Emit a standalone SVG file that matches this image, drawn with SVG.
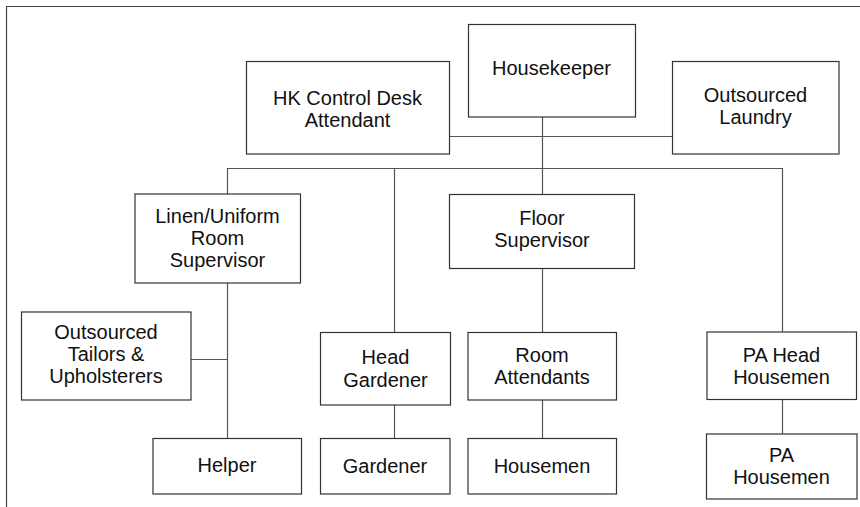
<svg xmlns="http://www.w3.org/2000/svg" width="860" height="507" viewBox="0 0 860 507">
  <style>
    .box { fill: #ffffff; stroke: #333333; stroke-width: 1.2; }
    .frame { fill: none; stroke: #444444; stroke-width: 1.2; }
    .link { fill: none; stroke: #555555; stroke-width: 1.2; }
    text { font-family: "Liberation Sans", Arial, sans-serif; font-size: 20px; fill: #111111; text-anchor: middle; }
  </style>
  <rect width="860" height="507" fill="#ffffff"/>
  <!-- outer frame: top and left edges only -->
  <path class="frame" d="M6.5 507 V6.5 H860"/>

  <g id="connectors">
    <path class="link" d="M449 136.5 H672"/>
    <path class="link" d="M542.5 117 V194"/>
    <path class="link" d="M227.5 194 V168.5 H782.5 V332"/>
    <path class="link" d="M394.5 168.5 V332"/>
    <path class="link" d="M227.5 283 V438"/>
    <path class="link" d="M191 359.5 H227.5"/>
    <path class="link" d="M542.5 268 V332"/>
    <path class="link" d="M394.5 405 V438"/>
    <path class="link" d="M542.5 400 V438"/>
    <path class="link" d="M782.5 399 V434"/>
  </g>

  <g id="housekeeper">
    <rect class="box" x="468.5" y="24.5" width="167" height="92.5"/>
    <text x="551.5" y="75">Housekeeper</text>
  </g>
  <g id="hk-control-desk">
    <rect class="box" x="246.5" y="61.5" width="203" height="92.5"/>
    <text x="347.5" y="105">HK Control Desk</text>
    <text x="347.5" y="127">Attendant</text>
  </g>
  <g id="outsourced-laundry">
    <rect class="box" x="672.5" y="61.5" width="166.5" height="92.5"/>
    <text x="755.5" y="102">Outsourced</text>
    <text x="755.5" y="124">Laundry</text>
  </g>
  <g id="linen-supervisor">
    <rect class="box" x="135" y="194" width="165.5" height="89"/>
    <text x="217.5" y="223">Linen/Uniform</text>
    <text x="217.5" y="245">Room</text>
    <text x="217.5" y="267">Supervisor</text>
  </g>
  <g id="floor-supervisor">
    <rect class="box" x="449.5" y="194.5" width="185" height="74"/>
    <text x="542" y="225">Floor</text>
    <text x="542" y="246.5">Supervisor</text>
  </g>
  <g id="outsourced-tailors">
    <rect class="box" x="21.5" y="312" width="169.5" height="88"/>
    <text x="106" y="339">Outsourced</text>
    <text x="106" y="361">Tailors &amp;</text>
    <text x="106" y="383">Upholsterers</text>
  </g>
  <g id="head-gardener">
    <rect class="box" x="320.5" y="332.5" width="130" height="72.5"/>
    <text x="385.5" y="364">Head</text>
    <text x="385.5" y="386.5">Gardener</text>
  </g>
  <g id="room-attendants">
    <rect class="box" x="468" y="332.5" width="148.5" height="67.5"/>
    <text x="542" y="362">Room</text>
    <text x="542" y="383.5">Attendants</text>
  </g>
  <g id="pa-head-housemen">
    <rect class="box" x="707" y="332" width="149.5" height="67.5"/>
    <text x="781.5" y="362">PA Head</text>
    <text x="781.5" y="384">Housemen</text>
  </g>
  <g id="helper">
    <rect class="box" x="153" y="438.5" width="148.5" height="55.5"/>
    <text x="227" y="472">Helper</text>
  </g>
  <g id="gardener">
    <rect class="box" x="320.5" y="438.5" width="129.5" height="55.5"/>
    <text x="385" y="473">Gardener</text>
  </g>
  <g id="housemen">
    <rect class="box" x="468" y="438.5" width="148.5" height="55.5"/>
    <text x="542" y="473">Housemen</text>
  </g>
  <g id="pa-housemen">
    <rect class="box" x="706.5" y="434" width="150.5" height="65"/>
    <text x="781.5" y="462">PA</text>
    <text x="781.5" y="484">Housemen</text>
  </g>
</svg>
